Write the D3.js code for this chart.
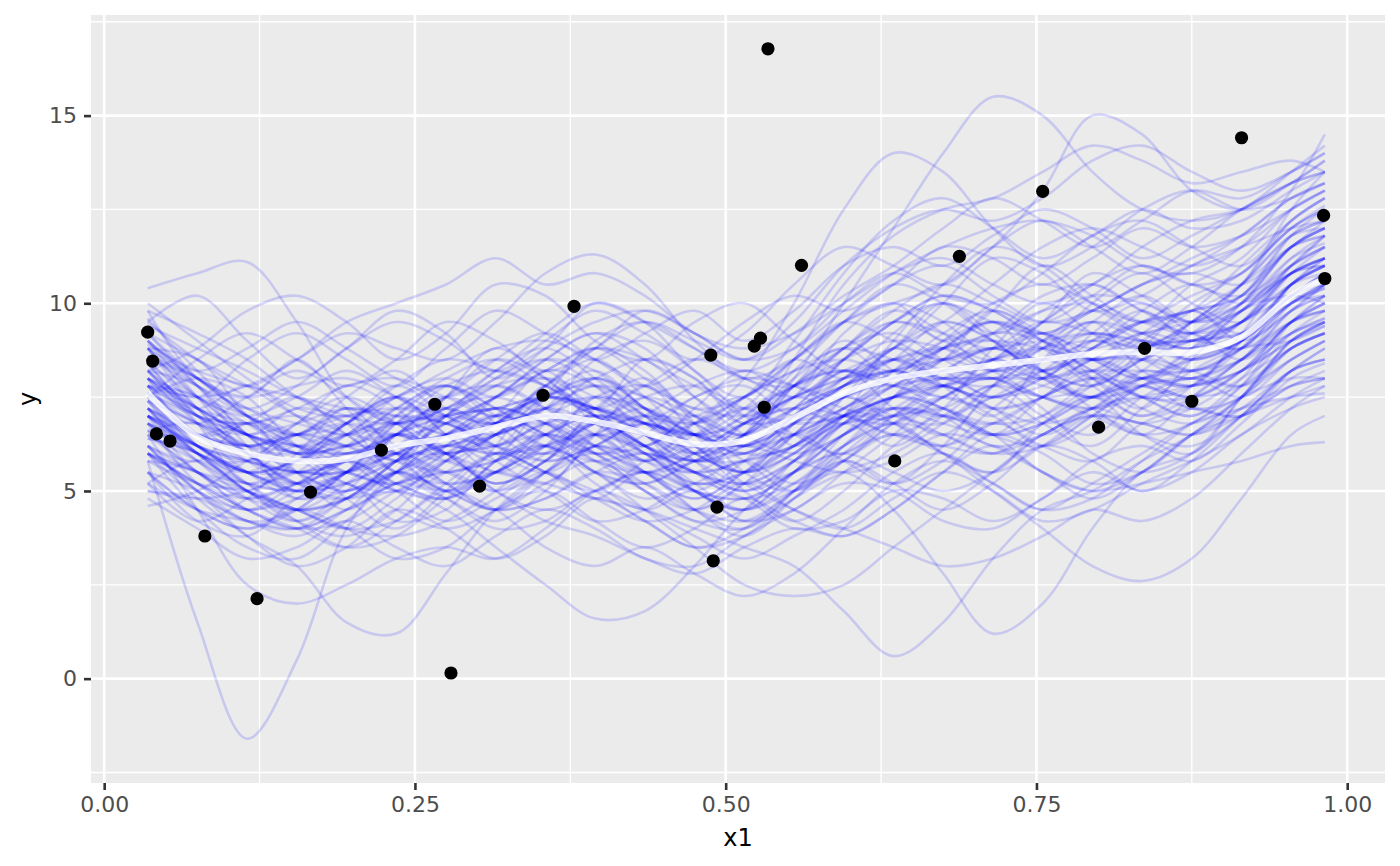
<!DOCTYPE html>
<html>
<head>
<meta charset="utf-8">
<script src="https://cdn.jsdelivr.net/npm/d3@7"></script>
<style>
  body { margin: 0; background: #fff; }
  svg { display: block; font-family: "DejaVu Sans", sans-serif; }
</style>
</head>
<body>
<div id="chart"></div>
<script>
// Observed data points (x1, y)
const pointX = [0.035, 0.039, 0.042, 0.053, 0.081, 0.123, 0.166, 0.223, 0.266, 0.279,
  0.302, 0.353, 0.378, 0.488, 0.490, 0.493, 0.523, 0.528, 0.531, 0.534,
  0.561, 0.636, 0.688, 0.755, 0.800, 0.837, 0.875, 0.915, 0.981, 0.982];
const pointY = [9.23, 8.46, 6.52, 6.33, 3.80, 2.13, 4.97, 6.09, 7.31, 0.15,
  5.13, 7.55, 9.92, 8.62, 3.14, 4.57, 8.86, 9.07, 7.23, 16.78,
  11.01, 5.80, 11.25, 12.98, 6.70, 8.80, 7.39, 14.41, 12.34, 10.66];

const drawX = [0.035, 0.075, 0.115, 0.155, 0.195, 0.235, 0.275, 0.315, 0.355, 0.395,
  0.435, 0.475, 0.515, 0.555, 0.595, 0.635, 0.675, 0.715, 0.755, 0.795,
  0.835, 0.875, 0.915, 0.955, 0.982];

// Mean of the draws (white line)
const meanY = [7.6, 6.45, 6.0, 5.8, 5.85, 6.2, 6.4, 6.7, 7.0, 6.85, 6.55, 6.25, 6.35,
  6.95, 7.6, 8.0, 8.2, 8.35, 8.5, 8.65, 8.7, 8.7, 9.1, 10.2, 10.65];

// Posterior draws (blue lines), one row per draw
const draws = [
  [5.8, 1.5, -1.6, 0.5, 4.0, 5.5, 6.0, 5.2, 5.8, 7.0, 6.5, 5.0, 4.5, 5.5, 7.0, 8.0, 8.8, 9.0, 8.2, 7.5, 7.8, 8.5, 9.0, 10.0, 10.2],
  [10.4, 10.8, 11.1, 9.5, 7.5, 6.8, 7.2, 8.0, 8.5, 7.8, 6.5, 5.8, 6.2, 7.0, 8.5, 9.5, 10.2, 9.8, 9.0, 8.5, 8.0, 8.6, 9.5, 11.0, 11.5],
  [8.5, 7.2, 6.0, 5.2, 5.0, 5.8, 7.0, 8.2, 8.8, 8.0, 7.0, 6.0, 5.5, 6.0, 7.2, 8.0, 9.0, 10.0, 10.5, 10.0, 9.2, 8.8, 9.5, 10.8, 11.2],
  [6.5, 5.5, 4.5, 4.0, 4.2, 5.0, 5.5, 5.0, 5.5, 6.5, 7.0, 6.8, 6.0, 6.2, 7.5, 9.0, 10.5, 11.5, 11.0, 10.0, 9.5, 9.8, 10.2, 11.5, 12.0],
  [9.0, 8.0, 7.5, 7.8, 8.0, 7.5, 6.8, 6.5, 7.2, 8.5, 9.0, 8.2, 7.0, 6.5, 7.0, 7.2, 6.8, 6.5, 7.0, 8.0, 8.8, 9.0, 8.8, 9.5, 9.8],
  [7.0, 6.0, 5.0, 4.2, 3.8, 4.5, 5.8, 6.5, 6.8, 6.0, 5.0, 4.2, 4.0, 5.0, 6.2, 6.8, 6.5, 6.0, 6.2, 7.0, 7.8, 8.0, 8.5, 9.5, 10.0],
  [8.0, 7.0, 6.8, 7.0, 6.5, 5.5, 5.0, 5.8, 7.5, 9.0, 9.5, 8.8, 8.0, 8.5, 9.5, 10.5, 11.0, 10.2, 9.5, 9.8, 10.5, 10.8, 10.5, 11.5, 12.2],
  [5.5, 4.5, 4.0, 4.5, 5.5, 6.5, 6.0, 5.0, 4.5, 5.0, 5.5, 5.0, 4.2, 4.5, 5.5, 6.5, 7.5, 8.0, 7.2, 6.0, 5.5, 6.0, 7.5, 9.0, 9.5],
  [9.5, 8.5, 7.8, 8.5, 9.2, 8.8, 8.5, 9.5, 10.8, 11.3, 10.5, 9.0, 8.0, 7.8, 8.5, 9.5, 10.0, 9.5, 9.2, 9.8, 10.5, 11.2, 11.8, 12.8, 13.2],
  [6.0, 5.2, 4.5, 4.0, 4.5, 5.0, 4.5, 3.5, 2.5, 1.6, 1.8, 3.0, 4.5, 5.5, 6.0, 5.5, 5.0, 5.5, 6.5, 7.0, 6.8, 6.5, 7.2, 8.2, 8.5],
  [7.8, 6.5, 5.8, 5.5, 5.8, 6.8, 7.8, 8.2, 7.8, 7.0, 6.5, 6.8, 7.5, 8.5, 9.5, 10.0, 9.5, 8.5, 8.0, 8.5, 9.2, 9.0, 9.8, 11.2, 11.8],
  [7.2, 6.5, 6.2, 6.0, 5.5, 5.2, 5.8, 6.8, 7.5, 7.2, 6.5, 6.0, 6.5, 8.0, 10.0, 12.0, 14.0, 15.5, 15.0, 13.5, 12.5, 12.2, 12.5, 13.5, 14.2],
  [6.8, 6.0, 5.5, 5.0, 5.2, 5.8, 6.2, 6.0, 6.5, 7.0, 6.2, 5.0, 4.5, 5.0, 5.5, 4.5, 2.8, 1.2, 2.0, 4.0, 5.5, 6.0, 7.0, 8.2, 8.8],
  [8.2, 7.2, 6.5, 6.0, 6.2, 6.5, 6.0, 5.5, 5.2, 4.8, 4.5, 4.0, 3.5, 3.0, 1.8, 0.6, 1.5, 3.2, 4.5, 5.0, 5.8, 6.5, 7.5, 8.5, 9.0],
  [7.5, 6.8, 6.5, 6.8, 7.2, 7.0, 6.5, 6.8, 7.5, 8.0, 7.5, 7.0, 8.0, 10.0, 12.5, 14.0, 13.5, 12.0, 11.0, 11.5, 12.5, 13.0, 12.5, 12.8, 13.2],
  [6.2, 5.0, 4.5, 4.8, 5.5, 6.0, 6.5, 7.0, 6.5, 5.8, 5.5, 6.0, 6.8, 7.2, 7.0, 6.5, 6.2, 6.8, 7.5, 8.0, 7.5, 7.0, 7.8, 9.2, 9.8],
  [9.2, 8.0, 7.0, 6.2, 6.0, 6.5, 7.2, 7.5, 7.0, 6.5, 6.8, 7.5, 8.0, 7.8, 7.5, 8.2, 9.0, 9.5, 9.0, 8.2, 7.5, 7.8, 9.0, 10.5, 11.0],
  [7.0, 6.2, 5.8, 5.5, 5.5, 6.0, 6.8, 7.5, 8.0, 7.5, 6.8, 6.5, 7.2, 8.5, 9.5, 10.0, 10.5, 11.5, 13.0, 15.0, 14.5, 13.0, 12.5, 13.2, 13.8],
  [5.0, 4.8, 5.0, 5.5, 5.2, 4.5, 4.0, 4.5, 5.5, 6.2, 5.8, 5.0, 4.8, 5.5, 6.5, 7.2, 7.0, 6.5, 5.5, 5.0, 5.5, 6.5, 7.0, 7.5, 7.8],
  [8.8, 7.5, 6.5, 5.5, 5.0, 5.5, 6.5, 7.0, 7.5, 8.0, 8.5, 8.0, 7.0, 7.5, 8.8, 9.5, 9.2, 8.8, 9.5, 10.5, 11.0, 10.5, 10.2, 11.0, 11.5],
  [6.0, 4.8, 3.8, 3.0, 1.5, 1.2, 2.8, 4.5, 5.5, 6.0, 5.5, 4.5, 4.0, 5.0, 6.5, 7.5, 7.2, 6.5, 6.8, 7.5, 8.0, 7.8, 8.2, 9.0, 9.5],
  [7.4, 6.8, 6.0, 5.2, 4.8, 5.2, 6.0, 6.5, 7.0, 7.5, 7.2, 6.5, 6.2, 6.8, 7.8, 8.5, 8.8, 8.2, 7.5, 7.2, 7.8, 8.8, 10.0, 11.5, 12.0],
  [8.0, 7.5, 7.0, 6.5, 6.8, 7.5, 7.8, 7.2, 6.5, 6.0, 6.2, 6.8, 7.5, 8.2, 8.8, 8.5, 8.0, 8.5, 9.5, 10.2, 10.0, 9.5, 9.8, 10.8, 11.2],
  [6.5, 5.8, 5.2, 5.5, 6.5, 7.2, 7.0, 6.2, 5.5, 5.0, 4.2, 3.5, 3.8, 4.8, 5.5, 6.0, 6.8, 7.8, 8.5, 8.0, 7.2, 6.8, 7.5, 9.0, 9.5],
  [10.0, 9.0, 8.0, 7.2, 7.0, 7.5, 8.2, 8.8, 9.0, 8.5, 7.8, 7.2, 7.0, 7.5, 8.2, 8.8, 9.5, 10.5, 11.5, 12.0, 11.5, 11.0, 11.5, 12.5, 13.0],
  [5.8, 5.2, 5.0, 4.5, 4.0, 3.8, 4.2, 5.0, 6.0, 6.8, 6.5, 5.8, 5.2, 5.5, 6.2, 7.0, 7.8, 8.0, 7.5, 7.0, 6.5, 6.8, 7.8, 9.5, 10.2],
  [8.6, 7.8, 7.2, 6.8, 6.5, 6.8, 7.0, 6.8, 7.2, 7.8, 7.5, 6.8, 6.2, 6.5, 7.2, 7.8, 8.5, 8.8, 8.5, 8.8, 9.5, 9.8, 10.2, 11.8, 12.5],
  [7.0, 6.2, 5.5, 5.8, 6.2, 6.0, 5.2, 4.5, 4.8, 5.5, 6.0, 5.5, 5.0, 5.8, 6.8, 7.2, 7.0, 7.5, 8.2, 8.5, 8.0, 7.8, 8.5, 10.0, 10.5],
  [9.8, 9.2, 8.5, 7.5, 6.8, 6.5, 6.8, 7.5, 8.2, 8.8, 8.5, 7.5, 6.8, 7.0, 7.8, 8.2, 7.8, 7.5, 8.0, 8.8, 9.5, 10.2, 10.8, 12.0, 12.6],
  [6.6, 5.5, 4.8, 4.5, 4.8, 5.5, 6.0, 6.2, 6.8, 7.2, 6.8, 6.0, 5.5, 6.2, 7.0, 7.5, 8.0, 8.5, 8.8, 8.2, 7.5, 7.5, 8.2, 9.2, 9.6],
  [7.8, 7.0, 6.5, 6.2, 6.8, 7.8, 8.5, 8.2, 7.8, 7.2, 6.8, 6.5, 6.8, 7.5, 8.0, 8.2, 8.8, 9.2, 9.8, 10.0, 9.5, 9.2, 9.8, 10.8, 11.0],
  [7.2, 6.5, 6.0, 5.8, 6.0, 6.2, 6.5, 6.8, 7.0, 6.5, 5.8, 5.5, 5.8, 6.5, 7.0, 6.8, 6.0, 5.0, 4.0, 3.0, 2.6, 3.2, 4.8, 6.5, 7.0],
  [8.4, 7.0, 6.0, 5.5, 5.8, 6.5, 7.0, 7.2, 7.5, 7.0, 6.2, 5.5, 5.2, 5.8, 6.8, 7.8, 8.2, 8.0, 7.5, 7.8, 8.5, 9.5, 10.5, 12.5, 13.5],
  [4.6, 5.0, 5.8, 6.5, 6.2, 5.5, 5.2, 5.5, 6.2, 6.5, 6.0, 5.2, 5.5, 6.5, 7.5, 7.8, 7.2, 6.8, 7.0, 7.8, 8.5, 8.2, 7.8, 8.5, 9.0],
  [7.6, 6.5, 6.2, 6.5, 7.0, 7.2, 7.0, 7.5, 8.5, 9.2, 8.8, 7.5, 6.5, 6.0, 6.5, 7.5, 8.5, 9.2, 9.0, 8.5, 8.8, 9.5, 10.5, 11.8, 12.2],
  [6.8, 5.8, 5.0, 4.5, 4.8, 5.8, 6.8, 7.2, 6.8, 6.2, 5.8, 6.2, 7.0, 7.8, 8.2, 7.8, 7.5, 7.2, 7.5, 8.2, 8.8, 9.0, 9.2, 10.2, 10.8],
  [8.9, 8.2, 7.8, 7.5, 7.2, 7.0, 6.8, 6.2, 5.8, 6.2, 7.0, 7.8, 8.2, 7.8, 7.2, 7.0, 7.5, 8.2, 8.8, 9.2, 9.0, 8.8, 9.2, 10.5, 11.0],
  [5.2, 4.5, 4.2, 4.0, 4.5, 5.2, 5.5, 5.8, 6.5, 7.0, 6.5, 5.5, 4.8, 5.2, 6.0, 6.5, 6.2, 6.0, 6.5, 7.2, 7.5, 7.2, 7.0, 7.8, 8.0],
  [9.4, 8.8, 8.2, 7.5, 7.0, 6.8, 7.2, 8.0, 8.8, 9.5, 9.8, 9.2, 8.5, 8.8, 9.8, 10.8, 11.5, 12.0, 12.2, 11.8, 11.0, 10.8, 11.5, 13.0, 14.5],
  [7.4, 6.0, 5.2, 5.0, 5.2, 5.8, 6.2, 6.0, 6.2, 6.8, 7.5, 7.8, 7.2, 6.8, 7.0, 7.5, 7.8, 7.2, 6.8, 7.2, 8.0, 8.5, 9.0, 10.0, 10.5],
  [8.2, 6.8, 5.2, 6.0, 7.2, 6.0, 5.0, 6.2, 7.8, 7.0, 5.8, 6.8, 7.5, 6.2, 7.0, 8.8, 7.8, 7.0, 8.5, 9.5, 8.2, 7.8, 9.2, 10.8, 11.0],
  [6.2, 5.8, 6.8, 5.5, 4.5, 5.5, 6.8, 5.8, 5.2, 6.5, 7.8, 6.5, 5.5, 6.8, 8.2, 7.2, 6.5, 7.8, 9.2, 8.0, 7.2, 8.5, 9.8, 10.2, 10.0],
  [7.8, 7.5, 6.2, 4.8, 5.5, 7.0, 7.8, 6.8, 6.0, 7.2, 8.0, 6.8, 5.5, 5.0, 6.2, 7.5, 8.8, 9.5, 8.2, 7.5, 8.8, 9.8, 9.0, 9.8, 10.5],
  [9.2, 7.8, 6.5, 7.2, 6.8, 5.5, 6.2, 7.5, 8.2, 7.0, 6.2, 7.0, 6.5, 7.8, 9.0, 8.2, 7.5, 8.8, 10.0, 9.2, 8.5, 9.5, 10.5, 11.8, 12.0],
  [5.2, 4.2, 4.8, 5.8, 4.8, 4.0, 5.0, 6.0, 5.5, 4.8, 5.5, 4.5, 3.8, 4.8, 6.0, 6.8, 6.0, 5.5, 6.8, 7.5, 6.5, 6.0, 7.5, 8.8, 9.2],
  [7.0, 5.5, 5.0, 5.8, 6.8, 7.5, 6.5, 5.8, 6.8, 8.0, 7.2, 6.0, 6.8, 8.0, 8.8, 8.0, 8.5, 9.8, 9.0, 8.0, 8.8, 9.2, 8.5, 9.5, 10.2],
  [8.8, 8.5, 7.0, 6.0, 6.8, 7.5, 6.5, 5.5, 6.2, 7.5, 7.0, 5.8, 5.0, 5.8, 7.0, 6.5, 7.2, 8.5, 8.0, 9.2, 10.0, 9.2, 8.8, 10.5, 11.2],
  [6.0, 4.5, 3.5, 3.2, 4.2, 5.2, 4.8, 4.2, 5.0, 6.2, 5.5, 4.8, 5.5, 6.5, 5.8, 5.2, 6.2, 7.5, 6.8, 6.2, 7.2, 8.2, 8.8, 9.0, 9.4],
  [7.5, 8.0, 7.5, 6.2, 5.5, 6.5, 7.5, 8.5, 8.0, 6.8, 6.2, 7.2, 8.2, 7.5, 8.0, 9.2, 10.0, 9.0, 8.2, 9.0, 9.8, 9.0, 9.5, 11.0, 11.8],
  [8.0, 6.2, 5.5, 5.2, 6.0, 5.8, 5.0, 5.5, 6.5, 6.0, 5.2, 4.5, 5.2, 6.5, 7.5, 7.0, 6.8, 7.8, 8.5, 7.8, 7.0, 7.8, 9.0, 10.2, 10.8],
  [9.6, 8.2, 7.0, 6.5, 7.5, 8.2, 7.2, 6.8, 7.8, 8.8, 8.2, 7.0, 6.5, 7.2, 8.5, 9.5, 9.0, 8.5, 9.5, 10.8, 10.2, 9.5, 10.5, 12.2, 12.8],
  [6.4, 6.0, 5.2, 4.5, 4.8, 5.8, 6.5, 6.0, 5.5, 6.2, 6.8, 6.2, 5.0, 4.2, 5.0, 6.2, 7.0, 6.5, 7.5, 8.2, 7.5, 7.0, 8.0, 9.5, 9.8],
  [7.2, 6.0, 5.8, 6.8, 7.5, 6.8, 6.0, 6.5, 7.5, 7.8, 7.0, 6.2, 6.0, 7.0, 8.0, 8.5, 8.0, 8.2, 9.0, 9.5, 9.0, 8.5, 9.0, 10.2, 10.5],
  [8.4, 7.0, 6.2, 5.5, 5.0, 5.8, 7.0, 7.8, 7.2, 6.2, 5.5, 5.0, 5.8, 7.0, 7.8, 8.5, 9.5, 9.0, 8.0, 7.5, 8.2, 9.2, 10.0, 10.8, 11.2],
  [5.5, 5.0, 4.2, 4.0, 4.8, 5.5, 5.0, 4.5, 5.2, 5.8, 5.0, 4.2, 4.5, 5.8, 6.8, 7.5, 7.0, 6.2, 6.5, 7.2, 6.8, 7.2, 8.0, 8.8, 9.2],
  [7.8, 6.5, 6.8, 7.5, 6.5, 5.8, 6.5, 7.2, 6.8, 6.0, 6.5, 7.5, 7.8, 7.0, 7.5, 8.5, 8.2, 7.5, 8.2, 9.0, 8.5, 8.0, 8.8, 10.5, 11.0],
  [9.0, 7.5, 6.0, 5.0, 5.5, 6.8, 7.5, 7.0, 7.8, 8.5, 7.5, 6.5, 7.0, 8.2, 9.5, 10.5, 10.0, 9.2, 9.8, 10.5, 9.8, 9.2, 10.0, 11.5, 12.0],
  [6.8, 5.2, 4.5, 5.2, 5.8, 5.2, 4.8, 5.5, 6.2, 5.5, 4.8, 5.2, 5.8, 5.2, 5.8, 6.8, 7.5, 7.0, 6.2, 6.8, 7.8, 8.0, 7.8, 8.8, 9.2],
  [8.5, 8.0, 7.2, 6.5, 6.0, 6.2, 7.0, 7.8, 8.5, 8.2, 7.2, 6.5, 6.2, 6.8, 7.2, 8.2, 9.2, 9.8, 9.2, 8.5, 9.0, 10.0, 10.8, 12.0, 12.5],
  [7.4, 6.2, 5.5, 5.0, 5.5, 6.5, 6.0, 5.2, 5.8, 6.8, 6.2, 5.5, 5.8, 6.2, 6.8, 7.0, 7.8, 8.5, 8.0, 7.5, 8.0, 8.2, 8.5, 9.8, 10.2],
  [6.6, 6.8, 6.0, 5.2, 5.8, 6.5, 5.8, 5.5, 6.5, 7.2, 6.5, 5.8, 6.5, 7.8, 8.2, 7.8, 8.2, 8.8, 8.2, 7.8, 8.5, 9.0, 9.2, 10.0, 10.4],
  [8.0, 7.2, 6.5, 6.0, 5.2, 5.0, 5.8, 6.8, 7.5, 7.2, 6.8, 6.0, 5.5, 6.0, 7.0, 7.8, 8.5, 8.2, 8.8, 9.5, 9.2, 8.8, 9.8, 11.0, 11.5],
  [7.0, 6.5, 5.5, 4.8, 5.0, 5.5, 6.2, 7.0, 6.5, 5.5, 5.2, 5.8, 6.5, 7.2, 7.8, 8.2, 7.8, 7.5, 8.0, 8.8, 9.5, 9.2, 9.5, 10.8, 11.2],
  [8.8, 7.8, 7.0, 6.5, 6.2, 6.8, 7.2, 6.8, 7.2, 7.5, 7.0, 6.8, 7.2, 7.8, 8.5, 9.0, 8.8, 8.2, 8.5, 9.0, 9.5, 9.8, 10.5, 11.5, 11.8],
  [6.0, 5.5, 5.2, 5.0, 5.5, 6.0, 6.5, 6.8, 6.2, 5.8, 6.0, 5.5, 5.0, 5.5, 6.5, 7.0, 7.2, 7.8, 7.5, 7.2, 7.5, 7.8, 8.2, 9.0, 9.4],
  [7.6, 6.8, 6.2, 6.5, 6.8, 6.5, 6.2, 6.8, 7.5, 7.2, 6.5, 6.2, 6.8, 7.5, 8.0, 8.5, 8.8, 9.0, 8.8, 8.5, 8.8, 9.2, 9.8, 10.8, 11.2],
  [8.2, 7.0, 6.5, 6.0, 6.2, 6.8, 6.5, 6.2, 6.8, 7.0, 6.8, 6.5, 6.2, 6.8, 7.5, 8.0, 8.2, 8.5, 8.8, 9.0, 8.8, 8.5, 9.0, 10.2, 10.8],
  [7.0, 6.2, 5.8, 5.5, 5.5, 5.8, 6.2, 6.5, 7.0, 6.8, 6.2, 5.8, 6.0, 6.5, 7.2, 7.8, 8.0, 8.0, 8.2, 8.5, 8.5, 8.2, 8.8, 10.0, 10.5],
  [7.8, 7.2, 6.5, 6.2, 6.0, 6.5, 7.0, 7.2, 7.5, 7.2, 6.8, 6.5, 6.5, 7.2, 7.8, 8.2, 8.5, 8.8, 9.0, 9.2, 9.0, 9.0, 9.5, 10.5, 11.0],
  [6.8, 6.0, 5.5, 5.5, 5.8, 6.0, 6.0, 6.2, 6.5, 6.2, 6.0, 5.8, 5.8, 6.2, 7.0, 7.5, 7.8, 8.0, 8.0, 8.2, 8.2, 8.2, 8.8, 9.8, 10.2],
  [7.2, 6.0, 5.0, 4.5, 5.2, 6.2, 7.0, 7.8, 8.0, 7.2, 6.0, 5.5, 6.5, 8.5, 10.5, 11.8, 12.5, 12.8, 13.5, 14.2, 13.8, 13.2, 13.5, 13.8, 13.5],
  [7.5, 6.2, 5.5, 5.8, 6.5, 6.8, 6.0, 5.0, 4.2, 3.8, 3.2, 2.8, 3.5, 4.0, 3.8, 4.5, 5.5, 6.5, 6.0, 5.2, 5.5, 6.5, 7.5, 9.0, 9.5],
  [8.2, 8.8, 9.8, 10.2, 9.5, 8.5, 9.2, 10.5, 10.2, 9.0, 8.5, 9.5, 10.0, 9.0, 8.2, 8.8, 10.0, 11.2, 10.8, 9.8, 10.2, 11.0, 11.5, 12.0, 12.2],
  [6.2, 5.5, 5.0, 4.5, 4.0, 4.2, 5.0, 4.5, 3.5, 3.0, 3.5, 2.8, 2.2, 2.8, 4.0, 5.2, 5.8, 5.2, 4.5, 4.8, 5.8, 6.8, 7.5, 8.0, 8.0],
  [8.0, 7.2, 6.8, 6.2, 6.5, 7.0, 6.8, 6.2, 6.0, 6.5, 7.0, 6.2, 5.2, 4.5, 4.0, 3.5, 3.0, 3.2, 3.8, 4.5, 4.2, 4.8, 6.0, 7.2, 7.8],
  [7.6, 7.0, 6.8, 7.2, 7.8, 8.0, 7.5, 7.0, 7.8, 8.8, 9.5, 9.0, 8.5, 9.5, 11.0, 12.0, 12.5, 12.2, 12.8, 13.8, 14.2, 13.5, 13.0, 13.5, 14.0],
  [6.5, 4.5, 2.5, 2.0, 2.5, 3.2, 3.5, 3.2, 4.0, 5.0, 5.5, 5.0, 4.8, 5.5, 6.8, 7.5, 7.2, 6.5, 6.8, 7.5, 7.8, 7.5, 7.8, 8.8, 9.2],
  [7.0, 6.5, 6.2, 6.5, 6.2, 5.8, 5.5, 5.8, 6.2, 5.5, 4.5, 3.5, 2.5, 2.2, 2.5, 3.5, 4.5, 5.5, 6.5, 7.0, 6.5, 6.2, 7.0, 8.2, 8.5],
  [7.8, 7.5, 7.8, 8.5, 9.5, 10.0, 10.5, 11.2, 10.5, 10.8, 10.2, 9.2, 8.8, 9.2, 10.0, 10.8, 11.2, 10.5, 10.0, 10.5, 11.5, 12.2, 12.5, 13.2, 13.5],
  [6.0, 5.2, 4.8, 5.2, 5.5, 5.0, 4.8, 5.5, 6.0, 5.5, 5.2, 5.8, 6.2, 5.8, 5.5, 5.8, 6.5, 6.2, 5.5, 5.0, 5.2, 5.5, 5.8, 6.2, 6.3],
  [9.8, 8.0, 7.5, 8.5, 7.2, 6.0, 7.5, 8.8, 8.0, 7.2, 8.5, 8.0, 6.8, 7.5, 9.2, 10.0, 9.0, 9.8, 11.0, 10.2, 9.5, 10.5, 11.2, 12.5, 13.0],
  [5.5, 4.2, 3.8, 4.8, 5.2, 4.2, 4.5, 5.8, 6.2, 5.2, 4.5, 5.0, 4.2, 4.8, 5.8, 5.2, 5.8, 6.8, 6.2, 5.8, 6.8, 7.2, 7.0, 8.2, 8.8],
  [8.2, 7.8, 6.5, 5.8, 6.8, 7.8, 7.0, 6.2, 7.5, 8.2, 7.2, 6.5, 7.5, 8.5, 8.0, 8.8, 10.0, 9.2, 8.5, 9.5, 10.2, 9.5, 10.0, 11.5, 12.0],
  [7.0, 5.8, 4.8, 4.2, 5.0, 6.0, 5.2, 4.5, 5.5, 6.5, 5.5, 4.8, 5.5, 6.5, 7.5, 6.8, 6.2, 7.2, 8.0, 7.2, 6.5, 7.5, 8.5, 9.5, 9.8],
  [8.8, 7.2, 6.2, 6.8, 7.8, 7.2, 6.2, 7.0, 8.2, 7.8, 6.8, 6.0, 6.8, 7.8, 8.8, 9.8, 9.2, 8.2, 8.8, 10.0, 10.8, 10.0, 9.5, 10.8, 11.5],
  [6.4, 6.0, 5.0, 4.5, 4.0, 4.8, 5.8, 5.2, 5.8, 6.8, 6.2, 5.2, 4.5, 5.2, 6.2, 7.0, 6.5, 6.0, 6.8, 7.5, 7.0, 7.5, 8.5, 9.2, 9.6],
  [7.8, 7.2, 7.8, 7.0, 6.2, 7.0, 7.8, 7.2, 6.5, 7.5, 7.8, 7.0, 6.2, 7.2, 8.2, 8.0, 8.8, 9.5, 8.8, 8.2, 9.2, 9.8, 9.2, 10.5, 11.2],
  [9.0, 7.8, 6.5, 5.5, 6.2, 7.2, 7.8, 7.0, 6.2, 6.8, 7.5, 7.0, 6.5, 7.8, 8.8, 9.2, 8.5, 8.0, 9.0, 9.8, 9.2, 9.8, 11.0, 12.2, 12.8],
  [5.8, 5.5, 4.5, 5.0, 5.8, 5.2, 4.8, 5.8, 6.5, 5.8, 5.0, 4.5, 5.2, 6.0, 6.8, 6.2, 7.0, 7.8, 7.0, 6.5, 7.5, 8.0, 7.5, 8.5, 9.0],
  [8.4, 7.5, 6.8, 6.0, 6.5, 7.5, 8.0, 7.5, 8.2, 8.8, 8.0, 7.2, 7.5, 8.5, 9.5, 9.0, 8.5, 9.2, 10.2, 10.5, 9.8, 9.5, 10.2, 11.8, 12.2],
  [7.2, 6.0, 5.5, 6.2, 5.8, 5.0, 5.5, 6.5, 7.2, 6.5, 5.8, 6.5, 7.2, 6.5, 6.0, 7.0, 7.8, 7.2, 7.5, 8.5, 8.0, 7.5, 8.2, 9.5, 10.0],
  [6.0, 5.2, 4.5, 4.0, 3.5, 4.2, 5.2, 6.0, 5.5, 5.0, 5.8, 6.5, 5.8, 5.0, 5.8, 6.8, 7.2, 6.5, 6.2, 7.0, 7.8, 7.2, 7.5, 8.8, 9.2],
  [8.6, 8.0, 7.0, 6.5, 7.2, 6.8, 6.0, 6.5, 7.5, 8.0, 7.2, 6.5, 6.0, 6.8, 7.8, 8.8, 9.5, 9.0, 8.2, 8.8, 9.8, 10.5, 10.0, 11.0, 11.8],
  [7.4, 6.5, 6.0, 5.2, 5.5, 6.5, 7.2, 6.5, 5.8, 6.2, 6.8, 6.2, 5.5, 6.2, 7.5, 8.2, 7.8, 8.5, 9.2, 8.5, 8.0, 8.8, 9.5, 10.2, 10.6],
  [6.8, 6.2, 5.8, 6.5, 7.0, 6.2, 5.5, 6.0, 6.8, 6.2, 5.5, 5.8, 6.5, 7.5, 7.0, 6.8, 7.5, 8.2, 7.8, 7.5, 8.2, 8.0, 8.5, 9.8, 10.5],
  [9.2, 8.5, 7.8, 7.0, 6.5, 7.2, 8.0, 8.5, 7.8, 7.2, 7.8, 8.5, 8.0, 7.5, 8.5, 9.5, 10.2, 9.8, 9.2, 9.8, 10.5, 11.0, 11.8, 12.8, 13.2],
  [5.0, 4.8, 4.2, 3.8, 4.5, 5.5, 5.0, 4.5, 4.8, 5.5, 5.2, 4.5, 4.2, 5.0, 5.8, 6.5, 6.0, 5.5, 6.2, 7.0, 6.8, 6.5, 7.0, 7.8, 8.2],
  [7.6, 7.0, 6.2, 6.0, 6.8, 7.5, 7.0, 6.5, 7.2, 7.8, 7.2, 6.8, 7.5, 8.2, 8.5, 8.2, 8.8, 9.5, 9.2, 8.8, 9.2, 9.5, 10.0, 11.2, 11.6],
  [8.0, 6.8, 5.8, 5.2, 5.8, 6.2, 5.8, 6.5, 7.2, 6.8, 6.0, 5.2, 5.5, 6.2, 7.0, 7.5, 8.0, 7.5, 7.8, 8.5, 9.0, 8.5, 9.0, 10.5, 11.0],
  [7.0, 6.5, 6.8, 6.2, 5.5, 5.2, 6.0, 6.8, 7.5, 7.0, 6.2, 5.8, 6.2, 7.0, 7.8, 8.5, 8.0, 7.8, 8.5, 9.2, 8.8, 8.2, 8.8, 10.0, 10.4],
  [6.2, 5.0, 4.2, 4.5, 5.5, 6.0, 5.5, 5.0, 5.8, 6.5, 6.0, 5.0, 4.5, 5.5, 6.5, 7.2, 7.8, 7.2, 6.5, 7.2, 8.0, 7.8, 8.2, 9.2, 9.5],
  [8.8, 7.5, 7.0, 7.5, 8.2, 7.5, 6.8, 7.5, 8.5, 9.2, 8.5, 7.8, 7.2, 7.8, 8.8, 9.8, 10.5, 10.0, 9.5, 10.2, 11.0, 10.5, 10.8, 12.0, 12.5],
  [7.2, 6.2, 5.5, 5.0, 4.8, 5.5, 6.5, 7.2, 6.8, 6.0, 5.5, 6.0, 6.8, 7.2, 6.8, 7.5, 8.2, 8.8, 8.2, 7.8, 8.5, 9.0, 9.5, 10.5, 10.8],
  [6.6, 6.2, 5.5, 5.8, 6.5, 6.0, 5.2, 5.5, 6.2, 6.8, 6.2, 5.5, 5.2, 5.8, 6.5, 7.2, 7.0, 6.8, 7.5, 8.0, 7.8, 7.5, 8.2, 9.5, 10.0],
  [8.2, 7.2, 6.5, 6.2, 5.8, 6.5, 7.5, 7.8, 7.2, 6.8, 7.2, 6.5, 6.0, 6.8, 8.0, 8.8, 8.5, 8.8, 9.5, 9.2, 8.8, 9.5, 10.2, 11.5, 11.8],
  [9.5, 10.2, 9.0, 8.0, 8.8, 9.8, 9.2, 8.0, 8.8, 10.0, 9.5, 8.2, 7.5, 9.0, 10.8, 12.2, 12.8, 12.0, 11.2, 11.8, 12.5, 12.0, 12.2, 13.0, 13.5],
  [4.8, 4.0, 3.2, 3.5, 4.2, 3.5, 3.0, 3.8, 4.5, 4.0, 3.2, 3.0, 3.8, 4.5, 5.2, 5.0, 4.2, 4.0, 4.8, 5.5, 5.0, 5.5, 6.5, 7.2, 7.5],
  [8.0, 7.5, 8.5, 9.2, 8.5, 7.8, 8.8, 9.8, 9.2, 8.5, 9.2, 9.8, 9.0, 9.8, 11.0, 11.5, 11.0, 11.8, 12.5, 12.0, 11.2, 11.8, 12.5, 13.2, 13.8],
  [6.2, 5.0, 3.8, 3.0, 3.5, 4.5, 4.0, 3.2, 3.8, 4.8, 4.2, 3.5, 4.0, 5.0, 5.8, 5.2, 4.5, 5.2, 6.2, 5.8, 5.0, 5.8, 7.0, 8.2, 8.5],
  [7.5, 8.5, 9.2, 8.5, 7.8, 8.5, 9.5, 9.0, 8.2, 8.8, 9.8, 9.2, 8.5, 9.2, 10.2, 11.0, 12.0, 12.8, 12.2, 11.5, 12.2, 13.0, 12.8, 13.5, 14.0],
  [5.5, 4.5, 4.0, 4.5, 4.0, 3.2, 3.5, 4.5, 5.0, 4.2, 3.5, 4.0, 4.8, 4.2, 3.8, 4.5, 5.5, 6.2, 5.5, 4.8, 5.5, 6.5, 7.2, 7.8, 8.0],
  [8.8, 8.0, 7.2, 7.8, 8.8, 9.5, 9.0, 8.2, 9.0, 9.8, 9.2, 8.5, 9.2, 10.5, 11.5, 11.0, 10.5, 11.5, 12.2, 11.5, 10.8, 11.5, 12.5, 13.2, 13.5],
  [6.8, 6.2, 5.2, 4.2, 3.5, 3.8, 4.8, 5.5, 5.0, 4.2, 4.5, 5.2, 4.8, 4.0, 4.2, 5.0, 4.8, 4.2, 4.8, 5.8, 6.2, 5.8, 6.8, 8.0, 8.4],
  [9.0, 8.2, 8.8, 9.5, 8.8, 8.0, 7.5, 8.2, 9.2, 10.0, 9.5, 8.8, 8.2, 8.8, 10.0, 10.8, 10.2, 10.0, 10.8, 11.8, 12.2, 11.5, 11.0, 12.2, 12.8],
  [5.2, 5.8, 5.0, 4.2, 4.8, 5.5, 4.8, 4.0, 4.2, 5.0, 4.5, 3.8, 3.2, 3.8, 4.5, 5.5, 6.0, 5.2, 4.5, 5.2, 6.0, 6.8, 7.2, 7.5, 7.6],
  [7.2, 6.8, 7.5, 8.2, 7.5, 6.8, 7.5, 8.5, 9.2, 8.5, 7.8, 8.5, 9.5, 10.2, 9.8, 10.5, 11.5, 11.2, 10.5, 11.2, 12.0, 11.5, 11.8, 12.5, 13.0],
  [6.0, 5.5, 4.8, 5.2, 5.8, 5.0, 4.2, 4.8, 5.5, 4.8, 4.2, 4.5, 5.2, 4.5, 4.0, 4.8, 5.5, 5.0, 4.2, 4.5, 5.2, 5.8, 6.5, 7.5, 8.0]
];

// Axis ticks
const xMajor = [0, 0.25, 0.5, 0.75, 1];
const xMinor = [0.125, 0.375, 0.625, 0.875];
const yMajor = [0, 5, 10, 15];
const yMinor = [-2.5, 2.5, 7.5, 12.5, 17.5];

// Size of the SVG container and the panel
const width = 1400;
const height = 866;
const margin = { top: 15, right: 15, bottom: 83, left: 91 };

const svg = d3.select("#chart")
  .append("svg")
  .attr("width", width)
  .attr("height", height);

const xScale = d3.scaleLinear()
  .domain([-0.0106, 1.0304])
  .range([margin.left, width - margin.right]);

const yScale = d3.scaleLinear()
  .domain([-2.78, 17.68])
  .range([height - margin.bottom, margin.top]);

// Panel background
svg.append("rect")
  .attr("x", margin.left)
  .attr("y", margin.top)
  .attr("width", width - margin.left - margin.right)
  .attr("height", height - margin.top - margin.bottom)
  .attr("fill", "#ebebeb");

// Grid lines
const grid = svg.append("g");
grid.selectAll(".xminor").data(xMinor).enter().append("line")
  .attr("x1", d => xScale(d)).attr("x2", d => xScale(d))
  .attr("y1", margin.top).attr("y2", height - margin.bottom)
  .attr("stroke", "#fff").attr("stroke-width", 1.3);
grid.selectAll(".yminor").data(yMinor).enter().append("line")
  .attr("x1", margin.left).attr("x2", width - margin.right)
  .attr("y1", d => yScale(d)).attr("y2", d => yScale(d))
  .attr("stroke", "#fff").attr("stroke-width", 1.3);
grid.selectAll(".xmajor").data(xMajor).enter().append("line")
  .attr("x1", d => xScale(d)).attr("x2", d => xScale(d))
  .attr("y1", margin.top).attr("y2", height - margin.bottom)
  .attr("stroke", "#fff").attr("stroke-width", 2.6);
grid.selectAll(".ymajor").data(yMajor).enter().append("line")
  .attr("x1", margin.left).attr("x2", width - margin.right)
  .attr("y1", d => yScale(d)).attr("y2", d => yScale(d))
  .attr("stroke", "#fff").attr("stroke-width", 2.6);

// Clip draws to the panel
svg.append("clipPath").attr("id", "panel")
  .append("rect")
  .attr("x", margin.left).attr("y", margin.top)
  .attr("width", width - margin.left - margin.right)
  .attr("height", height - margin.top - margin.bottom);

const line = d3.line()
  .x((d, i) => xScale(drawX[i]))
  .y(d => yScale(d))
  .curve(d3.curveCatmullRom.alpha(0.5));

const layer = svg.append("g").attr("clip-path", "url(#panel)");

// Posterior draws
layer.selectAll(".draw")
  .data(draws)
  .enter()
  .append("path")
  .attr("d", line)
  .attr("fill", "none")
  .attr("stroke", "#0000ff")
  .attr("stroke-opacity", 0.15)
  .attr("stroke-width", 2.6);

// Mean line
layer.append("path")
  .attr("d", line(meanY))
  .attr("fill", "none")
  .attr("stroke", "#ffffff")
  .attr("stroke-opacity", 0.82)
  .attr("stroke-width", 6);

// Observed points
layer.selectAll("circle")
  .data(pointX)
  .enter()
  .append("circle")
  .attr("cx", d => xScale(d))
  .attr("cy", (d, i) => yScale(pointY[i]))
  .attr("r", 6.6)
  .attr("fill", "#000");

// Axes
const xAxis = svg.append("g")
  .attr("transform", "translate(0," + (height - margin.bottom) + ")")
  .call(d3.axisBottom(xScale).tickValues(xMajor).tickFormat(d3.format(".2f")).tickSize(7).tickPadding(6));

const yAxis = svg.append("g")
  .attr("transform", "translate(" + margin.left + ",0)")
  .call(d3.axisLeft(yScale).tickValues(yMajor).tickSize(7).tickPadding(7));

[xAxis, yAxis].forEach(function(ax) {
  ax.select(".domain").remove();
  ax.selectAll(".tick line").attr("stroke", "#333").attr("stroke-width", 2.6);
  ax.selectAll(".tick text")
    .attr("fill", "#4d4d4d")
    .attr("font-size", 22)
    .attr("font-family", "DejaVu Sans, sans-serif");
});

// Axis titles
svg.append("text")
  .attr("x", (margin.left + width - margin.right) / 2)
  .attr("y", 846)
  .attr("text-anchor", "middle")
  .attr("font-size", 24)
  .text("x1");

svg.append("text")
  .attr("transform", "translate(36," + ((margin.top + height - margin.bottom) / 2) + ") rotate(-90)")
  .attr("text-anchor", "middle")
  .attr("font-size", 24)
  .text("y");
</script>
</body>
</html>
